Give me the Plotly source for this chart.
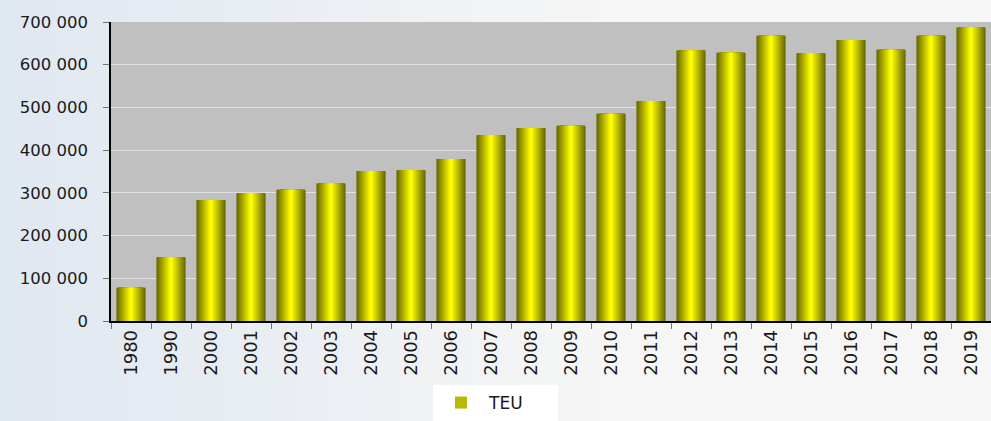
import plotly.graph_objects as go

years = ["1980", "1990", "2000", "2001", "2002", "2003", "2004", "2005", "2006", "2007", "2008",
         "2009", "2010", "2011", "2012", "2013", "2014", "2015", "2016", "2017", "2018", "2019"]
teu = [78000, 149000, 283000, 299000, 307000, 322000, 351000, 353000, 379000, 435000, 452000,
       457000, 485000, 515000, 633000, 628000, 668000, 627000, 658000, 635000, 668000, 687000]
y_ticks = [0, 100000, 200000, 300000, 400000, 500000, 600000, 700000]

fig = go.Figure()

# simulated horizontal gradient on bars: overlay bars of decreasing width
n_layers = 16
full_w = 0.73
dark = (106, 106, 0)
bright = (255, 255, 0)
for k in range(n_layers):
    t = k / (n_layers - 1)
    r = int(dark[0] + (bright[0] - dark[0]) * t)
    g = int(dark[1] + (bright[1] - dark[1]) * t)
    w = full_w * (1 - k / n_layers)
    fig.add_trace(go.Bar(
        x=years, y=teu, width=w, name="TEU",
        marker=dict(color=f"rgb({r},{g},0)", line=dict(width=0)),
        showlegend=(k == n_layers // 2),
        hoverinfo="skip" if k else "x+y",
    ))

# background gradient (left light blue to near-white)
L, T, W, H = 111, 22, 880, 299
def px(xp):
    return (xp - L) / W
def py(yp):
    return 1 - (yp - T) / H

shapes = []
n_st = 40
c0 = (224, 232, 241)
c1 = (246, 246, 246)
for i in range(n_st):
    x0 = i * 991 / n_st
    x1 = (i + 1) * 991 / n_st + 1
    t = min(1.0, (i + 0.5) / n_st / 0.6)
    col = tuple(int(c0[j] + (c1[j] - c0[j]) * t) for j in range(3))
    shapes.append(dict(type="rect", xref="paper", yref="paper",
                       x0=px(x0), x1=px(x1), y0=py(421), y1=py(0),
                       fillcolor=f"rgb{col}", line=dict(width=0), layer="below"))
shapes.append(dict(type="rect", xref="paper", yref="paper", x0=0, x1=1, y0=0, y1=1,
                   fillcolor="#c0c0c0", line=dict(width=0), layer="below"))

fig.update_layout(
    width=991, height=421,
    margin=dict(l=111, r=0, t=22, b=100),
    paper_bgcolor="#eef1f5",
    plot_bgcolor="rgba(0,0,0,0)",
    barmode="overlay",
    separators=". ",
    shapes=shapes,
    font=dict(family="DejaVu Sans, Verdana, sans-serif", size=17, color="#1a1a1a"),
    legend=dict(orientation="h", xref="container", yref="container",
                x=0.5, xanchor="center", y=-0.028, yanchor="bottom",
                bgcolor="white", font=dict(size=17), entrywidth=64,
                itemwidth=46),
    xaxis=dict(
        type="category", tickangle=-90, showgrid=False,
        showline=True, linecolor="black", linewidth=1.5,
        ticks="outside", tickcolor="#707070", ticklen=6, tickson="boundaries",
        range=[-0.5, 21.5], tickfont=dict(size=18),
    ),
    yaxis=dict(
        range=[0, 700000], tickvals=y_ticks, tickformat=",d",
        showgrid=True, gridcolor="#e0e0e0", gridwidth=1.2,
        showline=True, linecolor="black", linewidth=1.5,
        ticks="outside", tickcolor="#707070", ticklen=6,
        tickfont=dict(size=16.5), zeroline=False, ticklabelstandoff=12,
    ),
)

fig.write_html("out.html", config={"displayModeBar": False},
               post_script="document.body.style.margin='0';")
